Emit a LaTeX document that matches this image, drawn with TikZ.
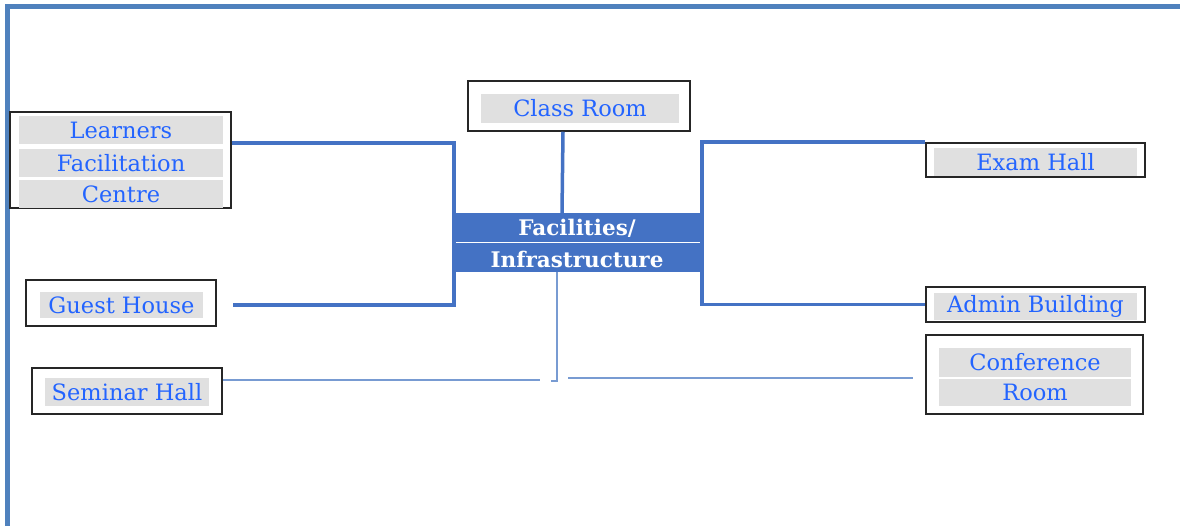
\documentclass[tikz,border=0pt]{standalone}
\usepackage{fontspec}
\setmainfont{DejaVu Serif}
\definecolor{framecol}{RGB}{79,129,189}
\definecolor{linkcol}{RGB}{68,114,196}
\definecolor{thincol}{RGB}{120,155,210}
\definecolor{textblue}{RGB}{35,100,255}
\definecolor{stripgray}{RGB}{224,224,224}
\tikzset{
  facbox/.style={draw=black!85,line width=1.5pt,inner sep=0pt},
  strip/.style={fill=stripgray,text=textblue,inner sep=0pt,font=\fontsize{22.5}{26}\selectfont},
  link/.style={draw=linkcol,line width=3.5pt},
  thinlink/.style={draw=thincol,line width=2pt}
}
\begin{document}
\begin{tikzpicture}[x=1pt,y=-1pt]
\useasboundingbox (0,0) rectangle (1180,526);
% frame
\draw[framecol,line width=5pt] (7.5,526) -- (7.5,6.5) -- (1180,6.5);

% centre
\node[fill=linkcol,minimum width=248pt,minimum height=59pt,inner sep=0pt] (hub) at (578,242.5) {};
\draw[white,line width=1.5pt] (hub.west) -- (hub.east);
\node[text=white,font=\bfseries\fontsize{21.5}{24}\selectfont] at (577,228) {Facilities/};
\node[text=white,font=\bfseries\fontsize{21.5}{24}\selectfont] at (577,259) {Infrastructure};

% boxes
\node[facbox,minimum width=221pt,minimum height=96pt] (learn) at (120.5,160) {};
\node[strip,minimum width=204pt,minimum height=28pt] at (121,130) {Learners};
\node[strip,minimum width=204pt,minimum height=28pt] at (121,163) {Facilitation};
\node[strip,minimum width=204pt,minimum height=28pt] at (121,194) {Centre};

\node[facbox,minimum width=222pt,minimum height=50pt] (class) at (579,106) {};
\node[strip,minimum width=198pt,minimum height=29pt] at (580,108.5) {Class Room};

\node[facbox,minimum width=219pt,minimum height=34pt] (exam) at (1035.5,160) {};
\node[strip,minimum width=203pt,minimum height=28pt] at (1035.5,162) {Exam Hall};

\node[facbox,minimum width=219pt,minimum height=35pt] (admin) at (1035.5,304.5) {};
\node[strip,minimum width=203pt,minimum height=27pt] at (1035.5,306.5) {Admin Building};

\node[facbox,minimum width=190pt,minimum height=46pt] (guest) at (121,303) {};
\node[strip,minimum width=163pt,minimum height=26pt] at (121.5,305) {Guest House};

\node[facbox,minimum width=190pt,minimum height=46pt] (seminar) at (127,391) {};
\node[strip,minimum width=164pt,minimum height=28pt] at (127,392) {Seminar Hall};

\node[facbox,minimum width=217pt,minimum height=79pt] (conf) at (1034.5,374.5) {};
\node[strip,minimum width=192pt,minimum height=29pt] at (1035,362.5) {Conference};
\node[strip,minimum width=192pt,minimum height=27pt] at (1035,392.5) {Room};

% connectors
\draw[link] ([xshift=-16pt]class.south) -- ([xshift=-16pt]hub.north);
\draw[link] ([yshift=17pt]learn.east) -| (hub.north west) -- (hub.south west) |- ([xshift=16pt,yshift=-2pt]guest.east);
\draw[link] (exam.north west) -| (hub.north east) -- (hub.south east) |- (admin.west);

\coordinate (drop) at ([xshift=-21pt]hub.south);
\coordinate (semend) at (540,380);
\coordinate (confend) at (568,378);
\draw[thinlink] (drop) -- ++(0,109) -- ++(-6,0);
\draw[thinlink] ([yshift=11pt]seminar.east) -- (semend);
\draw[thinlink] (confend) -- ([xshift=-12pt,yshift=-3.5pt]conf.west);
\end{tikzpicture}
\end{document}
